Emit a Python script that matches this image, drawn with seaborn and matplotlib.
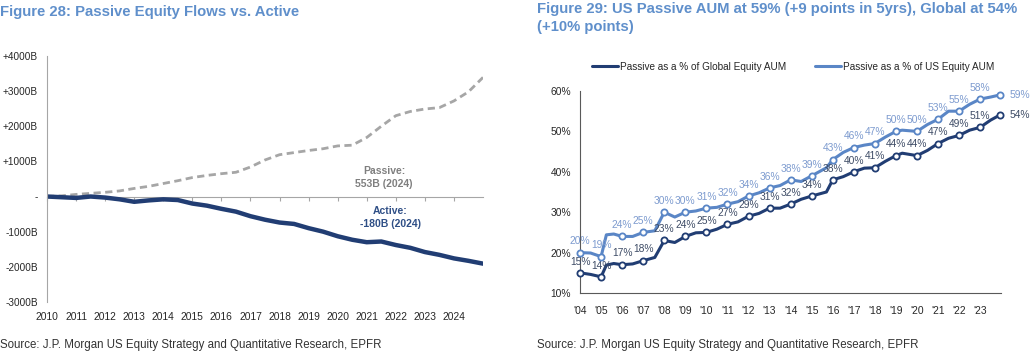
import matplotlib
matplotlib.use("Agg")
import matplotlib.pyplot as plt
import seaborn as sns

flow_years = [2010.0, 2010.5, 2011.0, 2011.5, 2012.0, 2012.5, 2013.0, 2013.5, 2014.0, 2014.5,
              2015.0, 2015.5, 2016.0, 2016.5, 2017.0, 2017.5, 2018.0, 2018.5, 2019.0, 2019.5,
              2020.0, 2020.5, 2021.0, 2021.5, 2022.0, 2022.5, 2023.0, 2023.5, 2024.0, 2024.5, 2025.0]
passive_flow = [0, 20, 60, 90, 120, 160, 230, 290, 370, 450,
                540, 600, 650, 690, 840, 1040, 1190, 1250, 1310, 1360,
                1440, 1460, 1680, 2000, 2300, 2420, 2490, 2530, 2720, 2980, 3390]
active_flow = [0, -20, -40, 0, -30, -80, -150, -110, -80, -100,
               -200, -260, -350, -430, -560, -660, -740, -780, -900, -1000,
               -1130, -1230, -1300, -1280, -1380, -1460, -1580, -1660, -1760, -1830, -1910]
flow_year_labels = list(range(2010, 2025))
flow_yticks = [-3000, -2000, -1000, 0, 1000, 2000, 3000, 4000]

# Figure 29: passive share of equity AUM (%)
share_x = [2004.0, 2004.5, 2005.0, 2005.25, 2005.6, 2006.0, 2006.5, 2007.0, 2007.55, 2008.0,
           2008.5, 2009.0, 2009.5, 2010.0, 2010.5, 2011.0, 2011.5, 2012.0, 2012.5, 2013.0,
           2013.5, 2014.0, 2014.5, 2015.0, 2015.7, 2016.0, 2016.5, 2017.0, 2017.5, 2018.0,
           2018.5, 2019.0, 2019.3, 2020.0, 2020.5, 2021.0, 2021.5, 2022.0, 2022.5, 2023.0,
           2023.5, 2023.92]
global_pct = [15, 14.6, 14, 16.9, 17.3, 17, 17.2, 18, 18.8, 23,
              22.5, 24, 24.9, 25, 25.8, 27, 27.6, 29, 29.7, 31,
              31.0, 32, 33.2, 34, 35.0, 38, 38.8, 40, 40.9, 41,
              42.6, 44, 44.6, 44, 45.3, 47, 48.3, 49, 50.3, 51,
              52.8, 54]
us_pct = [20, 19.9, 19, 24.4, 24.6, 24, 24.0, 25, 25.4, 30,
          28.8, 30, 30.3, 31, 31.2, 32, 32.6, 34, 34.8, 36,
          36.6, 38, 37.6, 39, 41.0, 43, 44.8, 46, 46.6, 47,
          48.6, 50, 50.3, 50, 51.7, 53, 55.0, 55, 56.7, 58,
          58.5, 59]
marker_x = [2004.0, 2005.0, 2006.0, 2007.0, 2008.0, 2009.0, 2010.0, 2011.0, 2012.0, 2013.0,
            2014.0, 2015.0, 2016.0, 2017.0, 2018.0, 2019.0, 2020.0, 2021.0, 2022.0, 2023.0, 2023.92]
share_year_labels = ["'04", "'05", "'06", "'07", "'08", "'09", "'10", "'11", "'12", "'13",
                     "'14", "'15", "'16", "'17", "'18", "'19", "'20", "'21", "'22", "'23"]

title_col = "#5f8fcb"
navy = "#213d73"
light_blue = "#5a86c6"
passive_col = "#a6a6a6"

sns.set_style("white")
plt.rcParams["font.family"] = ["Liberation Sans", "DejaVu Sans"]

fig = plt.figure(figsize=(10.31, 3.54), dpi=100)

# ---------- left chart ----------
ax1 = fig.add_axes([0.0456, 0.147, 0.4229, 0.695])
sns.lineplot(x=flow_years, y=passive_flow, ax=ax1, color=passive_col, lw=2.0, sort=False)
ax1.lines[-1].set_dashes([2.6, 1.6])
sns.lineplot(x=flow_years, y=active_flow, ax=ax1, color=navy, lw=3.2, sort=False)
ax1.set_xlim(2010, 2025)
ax1.set_ylim(-3000, 4000)
ax1.set_yticks(flow_yticks)
ax1.set_yticklabels(["-" if v == 0 else f"{v:+d}B" for v in flow_yticks])
ax1.set_xticks(flow_year_labels)
ax1.set_xticklabels([str(y) for y in flow_year_labels])
ax1.tick_params(axis="x", length=0, labelsize=7.4, pad=7)
ax1.tick_params(axis="y", length=3, direction="out", color="#a6a6a6", labelsize=7.2)
for s in ["top", "right", "bottom"]:
    ax1.spines[s].set_visible(False)
ax1.spines["left"].set_color("#a6a6a6")
# zero line with year ticks
zero = ax1.secondary_xaxis((0 - ax1.get_ylim()[0]) / (ax1.get_ylim()[1] - ax1.get_ylim()[0]))
zero.set_xticks(flow_year_labels)
zero.set_xticklabels([])
zero.tick_params(length=3, direction="out", color="#a6a6a6")
zero.spines["bottom"].set_color("#a6a6a6")
ax1.text(2021.6, 540, "Passive:\n553B (2024)", ha="center", va="center", fontsize=7.5,
         fontweight="bold", color="#7f7f7f", linespacing=1.3)
ax1.text(2021.8, -600, "Active:\n-180B (2024)", ha="center", va="center", fontsize=7.5,
         fontweight="bold", color="#2f4f86", linespacing=1.3)

# ---------- right chart ----------
ax2 = fig.add_axes([0.5626, 0.1723, 0.4085, 0.5707])
sns.lineplot(x=share_x, y=global_pct, ax=ax2, color=navy, lw=2.2, sort=False,
             label="Passive as a % of Global Equity AUM")
sns.lineplot(x=share_x, y=us_pct, ax=ax2, color=light_blue, lw=2.2, sort=False,
             label="Passive as a % of US Equity AUM")
g_marks = [global_pct[share_x.index(x)] for x in marker_x]
u_marks = [us_pct[share_x.index(x)] for x in marker_x]
ax2.scatter(marker_x, g_marks, s=20, facecolor="white", edgecolor=navy, lw=1.3, zorder=5, clip_on=False)
ax2.scatter(marker_x, u_marks, s=20, facecolor="white", edgecolor=light_blue, lw=1.3, zorder=5, clip_on=False)
for i, (x, g, u) in enumerate(zip(marker_x, g_marks, u_marks)):
    if i == len(marker_x) - 1:
        ax2.annotate(f"{u:.0f}%", (x, u), xytext=(7, 0), textcoords="offset points",
                     ha="left", va="center", fontsize=7.4, color="#7d9bcf")
        ax2.annotate(f"{g:.0f}%", (x, g), xytext=(7, 0), textcoords="offset points",
                     ha="left", va="center", fontsize=7.4, color="#3e4c66")
    else:
        ax2.annotate(f"{u:.0f}%", (x, u), xytext=(0, 4.5), textcoords="offset points",
                     ha="center", va="bottom", fontsize=7.4, color="#7d9bcf")
        ax2.annotate(f"{g:.0f}%", (x, g), xytext=(0, 4.5), textcoords="offset points",
                     ha="center", va="bottom", fontsize=7.4, color="#3e4c66")
ax2.set_xlim(2004, 2024)
ax2.set_ylim(10, 60)
ax2.set_yticks([10, 20, 30, 40, 50, 60])
ax2.set_yticklabels([f"{v}%" for v in [10, 20, 30, 40, 50, 60]])
ax2.set_xticks(list(range(2004, 2024)))
ax2.set_xticklabels(share_year_labels)
ax2.tick_params(length=3, direction="out", color="#595959", labelsize=7.4)
ax2.tick_params(axis="x", pad=6)
for s in ["top", "right"]:
    ax2.spines[s].set_visible(False)
for s in ["left", "bottom"]:
    ax2.spines[s].set_color("#595959")
ax2.set_xlabel("")
ax2.legend(loc="center", bbox_to_anchor=(0.506, 1.119), ncol=2, frameon=False, fontsize=7.2,
           handlelength=2.6, columnspacing=2.8, handletextpad=0.2)

# ---------- titles and sources ----------
fig.text(0.0, 0.965, "Figure 28: Passive Equity Flows vs. Active", fontsize=10.7, fontweight="bold",
         color=title_col, va="center")
fig.text(0.521, 0.995, "Figure 29: US Passive AUM at 59% (+9 points in 5yrs), Global at 54%\n(+10% points)",
         fontsize=10.7, fontweight="bold", color=title_col, va="top", linespacing=1.35)
fig.text(0.0, 0.025, "Source: J.P. Morgan US Equity Strategy and Quantitative Research, EPFR",
         fontsize=8.3, color="#333333", va="center")
fig.text(0.521, 0.025, "Source: J.P. Morgan US Equity Strategy and Quantitative Research, EPFR",
         fontsize=8.3, color="#333333", va="center")

fig.savefig("out.png", dpi=100)
